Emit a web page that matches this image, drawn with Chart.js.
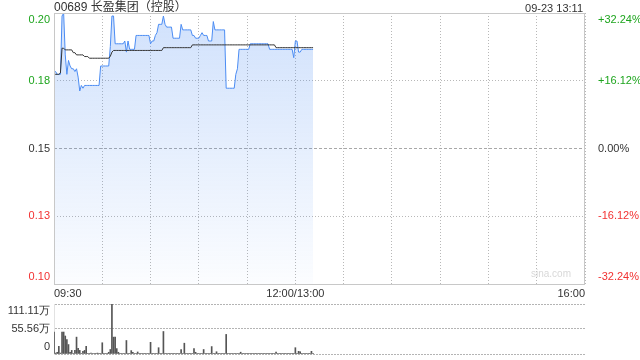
<!DOCTYPE html>
<html>
<head>
<meta charset="utf-8">
<script src="https://cdn.jsdelivr.net/npm/chart.js@4/dist/chart.umd.min.js"></script>
<style>
    body { margin: 0; width: 640px; height: 360px; background: #fff; position: relative; overflow: hidden; font-family: "Liberation Sans", Arial, "Noto Sans CJK SC", sans-serif; }
    canvas { position: absolute; left: 0; }
    #grafica-precio { top: 0; }
    #grafica-volumen { top: 296px; }
    #titulo { position: absolute; left: 54px; top: 0; font-size: 12px; line-height: 15px; color: #333; }
    #fecha { position: absolute; right: 57px; top: 1px; font-size: 11px; line-height: 14px; color: #333; }
    #marca { position: absolute; left: 531px; top: 268px; font-size: 10px; color: #d8d8d8; }
</style>
</head>
<body>
<canvas id="grafica-precio" width="640" height="300"></canvas>
<canvas id="grafica-volumen" width="640" height="64"></canvas>
<div id="titulo">00689 长盈集团（控股）</div>
<div id="fecha">09-23 13:11</div>
<div id="marca">sina.com</div>
<script>
// --- 1. DATOS (un valor por minuto desde las 09:30) ---
const CIERRE_ANTERIOR = 0.1513;
const porcentajes = [-32.24, -16.12, 0, 16.12, 32.24];
const minutosEtiqueta = [0, 150, 330];
const etiquetasHora = ['09:30', '12:00/13:00', '16:00'];
const marcasVolumen = [0, 55.56, 111.11];
const etiquetasVolumen = ['0', '55.56万', '111.11万'];

const precios = [
    0.179, 0.179, 0.178, 0.178, 0.178, 0.199, 0.200, 0.185, 0.178, 0.183,
    0.181, 0.180, 0.180, 0.179, 0.180, 0.177, 0.172, 0.174, 0.173, 0.174,
    0.174, 0.174, 0.174, 0.174, 0.174, 0.174, 0.174, 0.174, 0.174, 0.181,
    0.181, 0.181, 0.181, 0.181, 0.181, 0.188, 0.199, 0.199, 0.189, 0.189,
    0.189, 0.189, 0.189, 0.189, 0.190, 0.186, 0.190, 0.187, 0.187, 0.187,
    0.187, 0.192, 0.192, 0.192, 0.192, 0.192, 0.192, 0.192, 0.192, 0.192,
    0.189, 0.190, 0.190, 0.192, 0.193, 0.196, 0.196, 0.196, 0.199, 0.196,
    0.195, 0.195, 0.195, 0.195, 0.191, 0.191, 0.191, 0.191, 0.191, 0.196,
    0.194, 0.194, 0.194, 0.194, 0.194, 0.194, 0.192, 0.192, 0.191, 0.191,
    0.191, 0.192, 0.193, 0.192, 0.192, 0.192, 0.190, 0.190, 0.190, 0.197,
    0.194, 0.194, 0.194, 0.194, 0.194, 0.194, 0.194, 0.173, 0.173, 0.173,
    0.173, 0.173, 0.173, 0.178, 0.180, 0.187, 0.187, 0.187, 0.187, 0.187,
    0.187, 0.187, 0.189, 0.189, 0.189, 0.189, 0.189, 0.189, 0.189, 0.189,
    0.189, 0.189, 0.189, 0.189, 0.187, 0.187, 0.187, 0.187, 0.187, 0.187,
    0.187, 0.187, 0.187, 0.187, 0.187, 0.187, 0.187, 0.187, 0.187, 0.184,
    0.190, 0.190, 0.186, 0.186, 0.187, 0.187, 0.187, 0.187, 0.187, 0.187,
    0.187, 0.187
];

const medias = [
    0.1780, 0.1780, 0.1780, 0.1780, 0.1785, 0.1874, 0.1874, 0.1868, 0.1868, 0.1868,
    0.1868, 0.1868, 0.1858, 0.1858, 0.1850, 0.1850, 0.1850, 0.1850, 0.1850, 0.1844,
    0.1844, 0.1844, 0.1838, 0.1838, 0.1838, 0.1838, 0.1838, 0.1838, 0.1838, 0.1838,
    0.1838, 0.1838, 0.1838, 0.1838, 0.1838, 0.1845, 0.1860, 0.1866, 0.1866, 0.1866,
    0.1866, 0.1866, 0.1866, 0.1866, 0.1866, 0.1866, 0.1866, 0.1866, 0.1866, 0.1866,
    0.1866, 0.1866, 0.1866, 0.1866, 0.1866, 0.1866, 0.1866, 0.1866, 0.1866, 0.1866,
    0.1866, 0.1866, 0.1866, 0.1866, 0.1866, 0.1866, 0.1866, 0.1866, 0.1876, 0.1876,
    0.1876, 0.1876, 0.1876, 0.1876, 0.1876, 0.1876, 0.1876, 0.1876, 0.1876, 0.1876,
    0.1876, 0.1876, 0.1876, 0.1876, 0.1876, 0.1876, 0.1886, 0.1886, 0.1886, 0.1886,
    0.1886, 0.1886, 0.1886, 0.1886, 0.1886, 0.1886, 0.1886, 0.1886, 0.1886, 0.1886,
    0.1886, 0.1886, 0.1886, 0.1886, 0.1886, 0.1886, 0.1886, 0.1886, 0.1886, 0.1886,
    0.1886, 0.1886, 0.1886, 0.1886, 0.1886, 0.1886, 0.1886, 0.1886, 0.1886, 0.1886,
    0.1886, 0.1886, 0.1886, 0.1886, 0.1886, 0.1886, 0.1886, 0.1886, 0.1886, 0.1886,
    0.1886, 0.1886, 0.1886, 0.1886, 0.1886, 0.1886, 0.1886, 0.1886, 0.1876, 0.1876,
    0.1876, 0.1876, 0.1876, 0.1876, 0.1876, 0.1876, 0.1876, 0.1876, 0.1876, 0.1876,
    0.1876, 0.1876, 0.1876, 0.1876, 0.1876, 0.1876, 0.1876, 0.1876, 0.1876, 0.1876,
    0.1876, 0.1876
];

// volumen en 万 acciones
const volumenes = [
    48.8, 2, 3.8, 17, 2, 48.8, 48.8, 40, 32, 21,
    3.8, 8, 1, 8, 37.5, 12.8, 8, 1, 6, 8,
    17, 1, 1, 2, 1, 1, 1, 2, 1, 1,
    25, 1, 1, 1, 3.8, 10, 111.11, 37.5, 37.5, 12,
    3.8, 1, 1, 1, 1, 30, 1, 1, 7.5, 3.8,
    1, 1, 4.5, 1, 1, 1, 1, 1, 1, 1,
    26, 1, 1, 1, 1, 14, 1, 1, 50, 1,
    1, 1, 1, 1, 1, 1, 1, 1, 1, 10,
    1, 24, 1, 1, 1, 1, 1, 12, 3.8, 1,
    1, 1, 1, 10, 1, 1, 1, 1, 16.5, 1,
    1, 5, 1, 1, 1, 1, 1, 43.5, 1, 1,
    1, 1, 1, 1, 1, 1, 4, 1, 1, 1,
    1, 1, 1, 1, 1, 1, 1, 1, 1, 1,
    1, 1, 1, 1, 1, 1, 1, 1, 4, 1,
    1, 1, 1, 1, 1, 1, 1, 1, 1, 1,
    14, 1, 6, 5, 1, 1, 1, 1, 1, 1,
    6, 1
];

// --- 2. ESTILO COMÚN ---
Chart.defaults.font.family = '"Liberation Sans", Arial, sans-serif';
Chart.defaults.font.size = 11;
Chart.defaults.color = '#333';
const VERDE = '#1ea51e', ROJO = '#f23131', REJILLA = '#b8b8b8', MARCO = '#c8c8c8';
const MIN_PRECIO = CIERRE_ANTERIOR * (1 + porcentajes[0] / 100);
const MAX_PRECIO = CIERRE_ANTERIOR * (1 + porcentajes[porcentajes.length - 1] / 100);

// etiquetas de los extremos metidas hacia dentro con una línea vacía
const etiquetaDentro = (texto, i, total) => i === total - 1 ? ['', texto] : (i === 0 ? [texto, ''] : texto);
const colorSigno = (s) => s > 1e-9 ? VERDE : (s < -1e-9 ? ROJO : '#333');
const esCierre = (c) => c.tick && Math.abs(c.tick.value - CIERRE_ANTERIOR) < 1e-6;

const marco = {
    id: 'marco',
    afterDatasetsDraw(chart) {
        const a = chart.chartArea, c = chart.ctx;
        c.save(); c.strokeStyle = MARCO; c.lineWidth = 1;
        c.strokeRect(a.left + 0.5, a.top + 0.5, a.right - a.left - 1, a.bottom - a.top);
        c.restore();
    }
};

// --- 3. GRÁFICA DE PRECIO ---
new Chart(document.getElementById('grafica-precio'), {
    type: 'line',
    data: {
        datasets: [
            {
                data: precios.map((p, i) => ({ x: i, y: p })), yAxisID: 'y', order: 2,
                borderColor: '#4b8cf3', borderWidth: 1, pointRadius: 0, tension: 0, fill: 'start',
                backgroundColor: (c) => {
                    const a = c.chart.chartArea; if (!a) return 'rgba(75,140,243,0.2)';
                    const g = c.chart.ctx.createLinearGradient(0, a.top, 0, a.bottom);
                    g.addColorStop(0, 'rgba(75,140,243,0.26)'); g.addColorStop(0.5, 'rgba(75,140,243,0.14)'); g.addColorStop(1, 'rgba(75,140,243,0.02)');
                    return g;
                }
            },
            { data: medias.map((p, i) => ({ x: i, y: p })), yAxisID: 'y', order: 1, borderColor: '#333', borderWidth: 1, pointRadius: 0, tension: 0, fill: false }
        ]
    },
    options: {
        responsive: false, animation: false, events: [],
        layout: { padding: { top: 13, left: 0, right: 0, bottom: 0 } },
        plugins: { legend: { display: false }, tooltip: { enabled: false } },
        scales: {
            x: {
                type: 'linear', min: 0, max: 330, offset: false,
                grid: { color: REJILLA, drawTicks: false }, border: { display: false, dash: [1, 2] },
                ticks: {
                    stepSize: 30, autoSkip: false, maxRotation: 0, align: 'inner', padding: 3,
                    callback: (v) => { const k = minutosEtiqueta.indexOf(v); return k >= 0 ? etiquetasHora[k] : ''; }
                },
                afterFit: (s) => { s.height = 16; s.paddingLeft = 0; s.paddingRight = 0; }
            },
            y: {
                position: 'left', min: MIN_PRECIO, max: MAX_PRECIO,
                grid: { color: (c) => esCierre(c) ? '#a8a8a8' : REJILLA, drawTicks: false },
                border: { display: false, dash: (c) => esCierre(c) ? [3, 2] : [1, 2] },
                afterBuildTicks: (s) => { s.ticks = porcentajes.map(p => ({ value: CIERRE_ANTERIOR * (1 + p / 100) })); },
                ticks: {
                    autoSkip: false, padding: 4, font: { size: 11, lineHeight: '14px' },
                    color: (c) => colorSigno(c.tick.value - CIERRE_ANTERIOR),
                    callback: (v, i, t) => etiquetaDentro(v.toFixed(2), i, t.length)
                },
                afterFit: (s) => { s.width = 54; s.paddingTop = 0; s.paddingBottom = 0; }
            },
            yPct: {
                position: 'right', min: porcentajes[0], max: porcentajes[porcentajes.length - 1],
                grid: { display: false }, border: { display: false },
                afterBuildTicks: (s) => { s.ticks = porcentajes.map(p => ({ value: p })); },
                ticks: {
                    autoSkip: false, padding: 5, font: { size: 11, lineHeight: '14px' },
                    color: (c) => colorSigno(c.tick.value),
                    callback: (v, i, t) => etiquetaDentro((v > 0 ? '+' : '') + v.toFixed(2) + '%', i, t.length)
                },
                afterFit: (s) => { s.width = 55; s.paddingTop = 0; s.paddingBottom = 0; }
            }
        }
    },
    plugins: [marco]
});

// --- 4. GRÁFICA DE VOLUMEN ---
new Chart(document.getElementById('grafica-volumen'), {
    type: 'bar',
    data: { datasets: [{ data: volumenes.map((v, i) => ({ x: i, y: v })), backgroundColor: '#555', borderWidth: 0, barThickness: 1 }] },
    options: {
        responsive: false, animation: false, events: [],
        layout: { padding: { top: 8, left: 0, right: 55, bottom: 6 } },
        plugins: { legend: { display: false }, tooltip: { enabled: false } },
        scales: {
            x: { type: 'linear', min: 0, max: 330, offset: false, display: false },
            y: {
                min: 0, max: marcasVolumen[marcasVolumen.length - 1],
                grid: { color: '#b4b4b4', drawTicks: false }, border: { display: true, color: '#e2e2e2', dash: [2, 1] },
                afterBuildTicks: (s) => { s.ticks = marcasVolumen.map(v => ({ value: v })); },
                ticks: {
                    autoSkip: false, padding: 4, font: { size: 11, lineHeight: '14px' },
                    callback: (v, i, t) => etiquetaDentro(etiquetasVolumen[marcasVolumen.indexOf(v)], i, t.length)
                },
                afterFit: (s) => { s.width = 54; s.paddingTop = 0; s.paddingBottom = 0; }
            }
        }
    }
});
</script>
</body>
</html>
